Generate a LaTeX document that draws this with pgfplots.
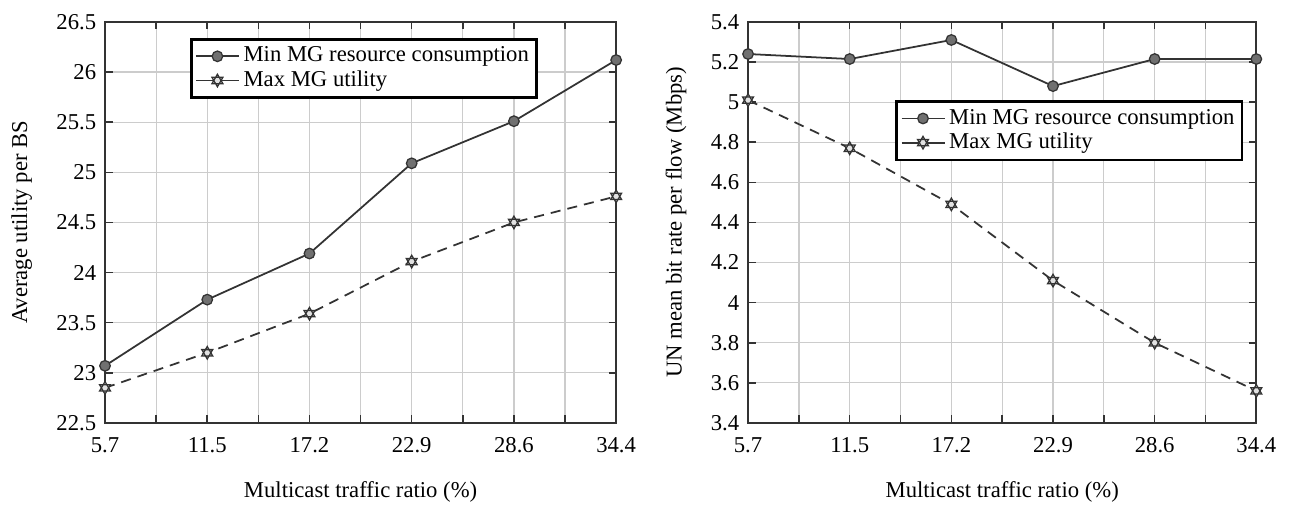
\documentclass[border=0pt]{standalone}
\usepackage{fontspec}
\setmainfont{Liberation Serif}
\usepackage{pgfplots}
\pgfplotsset{compat=1.18}

\pgfdeclareplotmark{hexagram}{%
  \pgfpathmoveto{\pgfqpointpolar{90}{\pgfplotmarksize}}%
  \pgfpathlineto{\pgfqpointpolar{210}{\pgfplotmarksize}}%
  \pgfpathlineto{\pgfqpointpolar{330}{\pgfplotmarksize}}%
  \pgfpathclose
  \pgfpathmoveto{\pgfqpointpolar{270}{\pgfplotmarksize}}%
  \pgfpathlineto{\pgfqpointpolar{30}{\pgfplotmarksize}}%
  \pgfpathlineto{\pgfqpointpolar{150}{\pgfplotmarksize}}%
  \pgfpathclose
  \pgfusepathqfillstroke
}

\definecolor{lnc}{HTML}{333333}
\definecolor{mfill}{HTML}{707070}
\definecolor{hfill}{HTML}{E2E2E2}
\definecolor{gridc}{HTML}{CCCCCC}

\pgfplotsset{
  panel/.style={
    scale only axis,
    height=5.594cm,
    xmin=0, xmax=5,
    xtick={0,1,2,3,4,5},
    xticklabels={5.7,11.5,17.2,22.9,28.6,34.4},
    minor x tick num=1,
    grid=both,
    major grid style={gridc, line width=0.5pt},
    minor grid style={gridc, line width=0.5pt},
    minor y tick num=0,
    axis line style={lnc, line width=0.7pt},
    tick style={lnc, line width=0.6pt},
    major tick length=3pt, minor tick length=3pt,
    tick pos=both,
    clip=false,
    font=\fontsize{9}{10.5}\selectfont,
    tick label style={font=\fontsize{9}{10.5}\selectfont},
    xticklabel style={yshift=-0.08cm},
    /pgf/number format/assume math mode=true,
    xlabel={Multicast traffic ratio (\%)},
    xlabel style={yshift=-0.16cm},
    ylabel style={yshift=0.1cm},
    legend cell align=left,
    legend style={draw=black, line width=1.1pt, font=\fontsize{9}{10.5}\selectfont,
      inner sep=1.5pt, row sep=-1pt,
      nodes={inner sep=1.5pt}},
  },
  minser/.style={lnc, line width=0.7pt, mark=*, mark size=2.1pt,
    mark options={solid, fill=mfill, draw=lnc, line width=0.5pt}},
  maxser/.style={lnc, line width=0.7pt, dash pattern=on 4pt off 2.8pt,
    mark=hexagram, mark size=2.5pt,
    mark options={solid, fill=hfill, draw=lnc, line width=0.5pt},
    legend image post style={solid}},
}

\begin{document}
\begin{tikzpicture}
\path (-1.465,-1.06) rectangle (16.53,5.9);
\begin{axis}[panel, width=7.13cm,
  ymin=22.5, ymax=26.5, ytick={22.5,23,...,26.5},
  ylabel={Average utility per BS},
  legend style={at={(0.166,0.96)}, anchor=north west},
]
\addplot[minser] coordinates {(0,23.07) (1,23.73) (2,24.19) (3,25.09) (4,25.51) (5,26.12)};
\addlegendentry{Min MG resource consumption}
\addplot[maxser] coordinates {(0,22.85) (1,23.20) (2,23.59) (3,24.11) (4,24.50) (5,24.76)};
\addlegendentry{Max MG utility}
\end{axis}

\begin{axis}[panel, width=7.09cm, xshift=8.97cm,
  ymin=3.4, ymax=5.4, ytick={3.4,3.6,...,5.41},
  ylabel={UN mean bit rate per flow (Mbps)},
  legend style={at={(0.29,0.805)}, anchor=north west},
]
\addplot[minser] coordinates {(0,5.24) (1,5.215) (2,5.31) (3,5.08) (4,5.215) (5,5.215)};
\addlegendentry{Min MG resource consumption}
\addplot[maxser] coordinates {(0,5.01) (1,4.77) (2,4.49) (3,4.11) (4,3.80) (5,3.56)};
\addlegendentry{Max MG utility}
\end{axis}
\end{tikzpicture}
\end{document}
